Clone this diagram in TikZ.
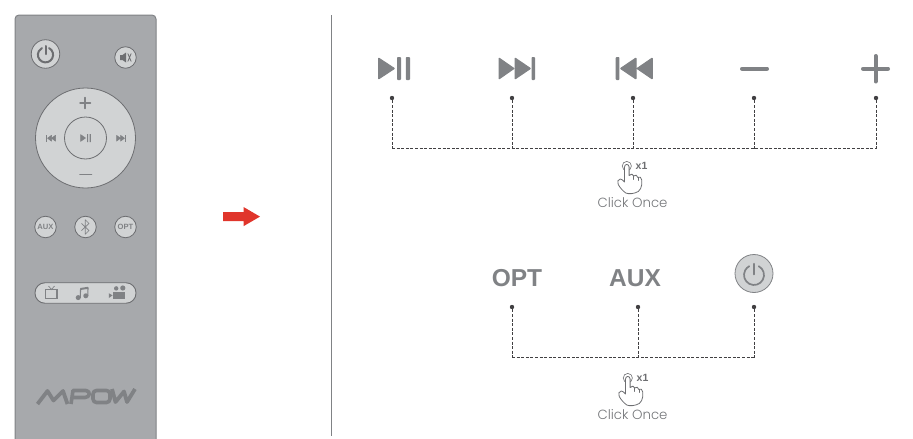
\documentclass[tikz,border=0pt]{standalone}
\usepackage{fontspec}
\setmainfont{Liberation Sans}
\newfontfamily\lightfont[UprightFont=* Light]{Poppins}
\definecolor{bodyg}{HTML}{A7A9AC}
\definecolor{edgeg}{HTML}{808285}
\definecolor{keyg}{HTML}{D1D3D4}
\definecolor{ringg}{HTML}{6D6E71}
\definecolor{inkg}{HTML}{808285}
\definecolor{dotg}{HTML}{414042}
\definecolor{arrowr}{HTML}{E0352B}
\tikzset{
  x=1pt,y=-1pt,
  keybtn/.style={circle,draw=ringg,fill=keyg,line width=.8pt,inner sep=0pt,minimum size=#1,font=\bfseries\fontsize{7.6}{8}\selectfont,text=inkg},
  glyph/.style={fill=inkg,draw=inkg,line width=.5pt,line join=round},
  bigglyph/.style={fill=inkg,draw=inkg,line width=1pt,line join=round,rounded corners=.5pt},
  stroke/.style={draw=inkg,line cap=round,line join=round},
  tick/.style={circle,fill=dotg,inner sep=0pt,minimum size=4.4pt},
  dashline/.style={draw=dotg,line width=.9pt,dash pattern=on 3pt off 1.6pt},
  biglabel/.style={font=\bfseries\fontsize{24.5}{26}\selectfont,text=inkg,inner sep=0pt},
  clicklabel/.style={font=\lightfont\fontsize{13.3}{15}\selectfont,text=inkg!90!black,inner sep=0pt},
  xlabel/.style={font=\bfseries\fontsize{10.5}{11}\selectfont,text=ringg,inner sep=0pt},
  handicon/.pic={
    \draw[ringg,line width=.6pt] (0,0) circle[radius=4.6pt];
    \draw[ringg,fill=white,line width=.8pt,line join=round,line cap=round]
      (-2.3,14) -- (-2.3,1) .. controls (-2.3,-2.4) and (2.3,-2.4) .. (2.3,1)
      -- (2.3,9.5) .. controls (4,7.6) and (6.4,7.6) .. (6.9,10)
      .. controls (8.4,8.4) and (10.6,9) .. (11,11.4)
      .. controls (12.6,10.2) and (15,11.4) .. (15,14)
      -- (15,18.5) .. controls (15,22) and (13,23.5) .. (11.5,25.5)
      .. controls (7,28) and (2,28.2) .. (-1,27)
      .. controls (-4,25) and (-6.5,22) .. (-8.6,18.5)
      .. controls (-9.8,16) and (-9,13) .. (-6.5,13)
      .. controls (-5,13) and (-3.5,14.6) .. (-2.3,16) -- cycle;
    \draw[ringg,line width=.6pt,line cap=round] (6.9,10) -- (6.9,13.5) (11,11.4) -- (11,14.5);
  },
}
\newcommand\powerglyph[5]{% cx cy r lw colour
  \draw[draw=#5,line width=#4pt,line cap=round]
    ({#1+#3*cos(62)},{#2-#3*sin(62)}) arc[start angle=62,end angle=-242,radius=#3pt];
  \draw[draw=#5,line width=#4pt,line cap=round] (#1,{#2-#3-1.2}) -- (#1,{#2-.6});
}
\begin{document}
\begin{tikzpicture}
\useasboundingbox (0,0) rectangle (913,439);
% remote
\draw[fill=bodyg,draw=edgeg,line width=1pt,rounded corners=4pt] (15,445) -- (15,15) -- (156,15) -- (156,445);
\node[keybtn=28.5pt] (power) at (45.5,54) {};
\powerglyph{45.5}{54.8}{7.6}{2}{ringg}
\node[keybtn=21.5pt] (mute) at (125.5,57.5) {};
\fill[ringg] (120,55) -- (122.5,55) -- (126,52.5) -- (126,62.5) -- (122.5,60) -- (120,60) -- cycle;
\draw[ringg,line width=.8pt] (127.8,53.5) -- (131.2,61.5) (131.2,53.5) -- (127.8,61.5);
\node[keybtn=100pt] (wheel) at (85.5,138) {};
\node[keybtn=42pt] (center) at (85.5,138) {};
\draw[stroke,line width=1.4pt] (80,103) -- (90.5,103) (85,97.5) -- (85,108.5);
\draw[stroke,line width=1.6pt] (80,174.5) -- (91.5,174.5);
\draw[glyph] (80.5,134.5) -- (80.5,141.5) -- (85.5,138) -- cycle;
\fill[inkg] (87,134) rectangle (88.2,142) (89.6,134) rectangle (90.8,142);
\fill[inkg] (45.5,135) rectangle (46.8,141.5);
\draw[glyph] (51.5,135.3) -- (51.5,141.2) -- (47.5,138.2) -- cycle (55.5,135.3) -- (55.5,141.2) -- (51.5,138.2) -- cycle;
\draw[glyph] (116.5,135.3) -- (116.5,141.2) -- (120.5,138.2) -- cycle (120.5,135.3) -- (120.5,141.2) -- (124.5,138.2) -- cycle;
\fill[inkg] (125,135) rectangle (126.3,141.5);
\node[keybtn=21.5pt] (auxkey) at (45.5,227) {AUX};
\node[keybtn=21.5pt] (btkey) at (85.5,227) {};
\draw[stroke,line width=.7pt] (81.5,223.5) -- (89,230.5) -- (85.3,234.2) -- (85.3,219.8) -- (89,223.5) -- (81.5,230.5);
\node[keybtn=21.5pt] (optkey) at (125.5,227) {OPT};
\node[draw=ringg,fill=keyg,line width=.9pt,rounded corners=10pt,minimum width=101pt,minimum height=20.5pt,inner sep=0pt] (pill) at (85.5,293) {};
% tv
\draw[draw=inkg,line width=1pt] (45.5,289.5) rectangle (57.5,298.5);
\fill[inkg] (56.3,289.5) rectangle (58.2,298.5);
\draw[inkg,line width=.7pt] (48.5,286) -- (51.5,289.5) -- (54.5,286);
% note
\fill[inkg] (78.2,297.6) circle[radius=2.5pt] (85.8,295.8) circle[radius=2.5pt];
\draw[inkg,line width=1.1pt] (80.2,298) -- (80.6,288.5) (87.8,296) -- (88,287.3);
\draw[inkg,line width=2pt] (80.4,289) -- (88,287.8);
% camera
\fill[inkg] (113.4,291.5) rectangle (125,299.3);
\fill[inkg] (116.2,288.4) circle[radius=2.2pt] (122.8,288) circle[radius=2.6pt];
\fill[inkg] (108.8,293.2) -- (112.6,295.4) -- (108.8,298) -- cycle;
% logo
\draw[stroke,line width=3.8pt,line cap=butt]
  (37.5,404) -- (47.5,391) -- (53.5,400.5) -- (63,391) -- (67.5,404);
\draw[stroke,line width=3.6pt,line cap=butt]
  (71,404) -- (73,390.5) -- (86,390.5) .. controls (91,391) and (90,397.5) .. (85,397.5) -- (73,397.5);
\draw[stroke,line width=3.6pt,rounded corners=3.5pt] (93,390.5) rectangle (110,402.5);
\draw[stroke,line width=3.8pt,line cap=butt] (112,389) -- (115.5,402) -- (124,391.5) -- (127,402) -- (135,389);
% red arrow
\fill[arrowr] (223,212) -- (243.5,212) -- (243.5,207) -- (260,216.6) -- (243.5,226.2) -- (243.5,221) -- (223,221) -- cycle;
% divider
\draw[draw=edgeg,line width=.8pt] (331.5,15) -- (331.5,436);
% top row icons
\draw[bigglyph] (378.5,58) -- (378.5,79) -- (394.5,68.5) -- cycle;
\fill[inkg,rounded corners=.8pt] (397,57) rectangle (401,80) (405.8,57) rectangle (410,80);
\draw[bigglyph] (499,58) -- (499,79) -- (514,68.5) -- cycle (515,58) -- (515,79) -- (530.5,68.5) -- cycle;
\fill[inkg,rounded corners=.8pt] (531.5,57) rectangle (535,80);
\fill[inkg,rounded corners=.8pt] (615.7,57) rectangle (619.3,80);
\draw[bigglyph] (636,58) -- (636,79) -- (620.5,68.5) -- cycle (652.3,58) -- (652.3,79) -- (637,68.5) -- cycle;
\draw[stroke,line width=4pt] (742,68.7) -- (767,68.7);
\draw[stroke,line width=4pt] (863,68.7) -- (888,68.7) (875.5,56) -- (875.5,81.5);
% top connectors
\node[tick] (a1) at (392,98) {};
\node[tick] (a2) at (512,98) {};
\node[tick] (a3) at (633,98) {};
\node[tick] (a4) at (754,98) {};
\node[tick] (a5) at (876,98) {};
\coordinate (b1) at (392,148.5);
\coordinate (b2) at (512,148.5);
\coordinate (b3) at (633,148.5);
\coordinate (b4) at (754,148.5);
\coordinate (b5) at (876,148.5);
\draw[dashline] (a1) -- (b1);
\draw[dashline] (a2) -- (b2);
\draw[dashline] (a3) -- (b3);
\draw[dashline] (a4) -- (b4);
\draw[dashline] (a5) -- (b5);
\draw[dashline] (b1) -- (b5);
\pic at (626.8,166) {handicon};
\node[xlabel,anchor=west] (xa) at (635.5,165.5) {x1};
\node[clicklabel] (ca) at (632.5,202.5) {Click Once};
% bottom row
\node[biglabel] (opt) at (517,278) {OPT};
\node[biglabel] (aux) at (635,278) {AUX};
\node[keybtn=38pt,draw=edgeg] (bigpower) at (754,273.5) {};
\powerglyph{754}{275}{10}{1.7}{inkg}
\node[tick] (c1) at (512,307) {};
\node[tick] (c2) at (638,307) {};
\node[tick] (c3) at (754,307) {};
\coordinate (e1) at (512,357.5);
\coordinate (e2) at (638,357.5);
\coordinate (e3) at (754,357.5);
\draw[dashline] (c1) -- (e1);
\draw[dashline] (c2) -- (e2);
\draw[dashline] (c3) -- (e3);
\draw[dashline] (e1) -- (e3);
\pic at (627.8,378) {handicon};
\node[xlabel,anchor=west] (xb) at (636.5,377.5) {x1};
\node[clicklabel] (cb) at (632.5,414.5) {Click Once};
\end{tikzpicture}
\end{document}
